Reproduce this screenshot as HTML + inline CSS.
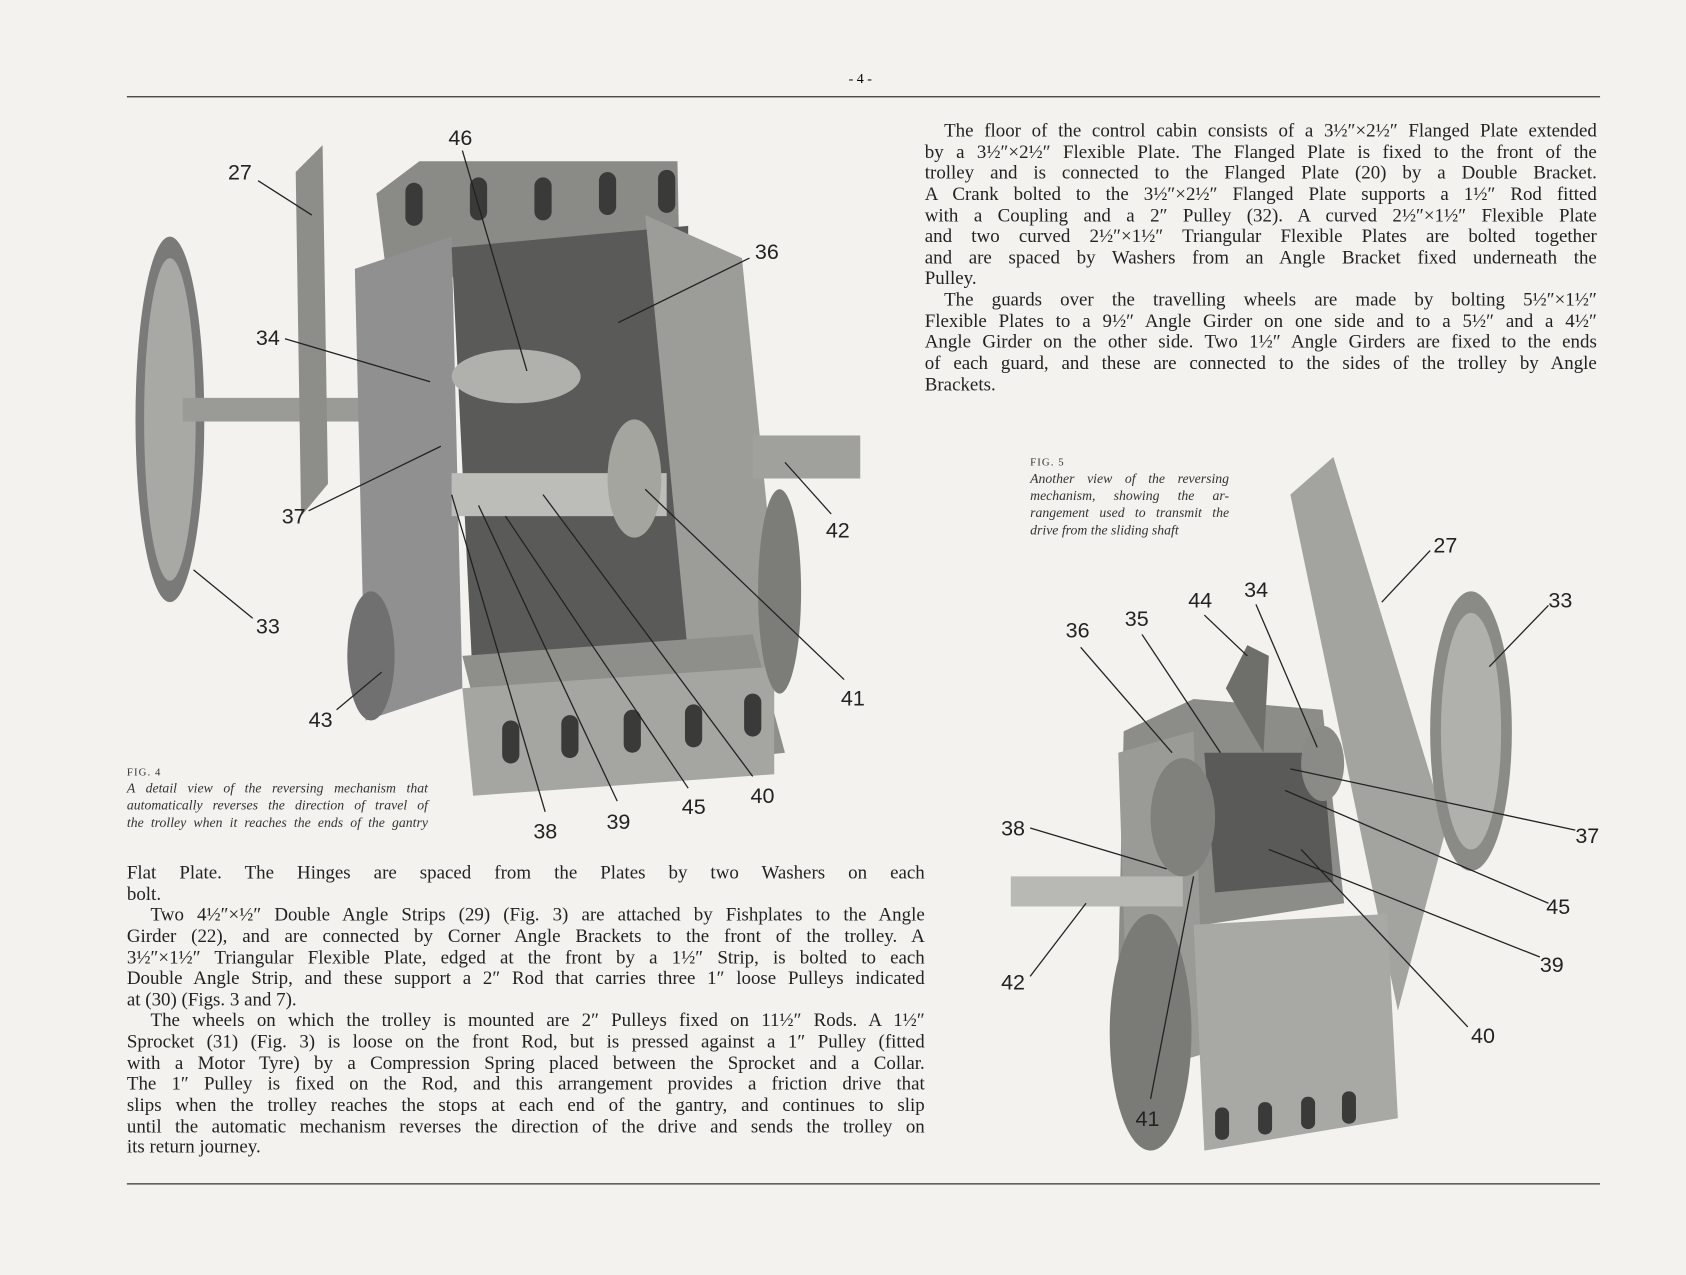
<!DOCTYPE html>
<html><head><meta charset="utf-8">
<style>
html,body{margin:0;padding:0;background:#f3f2ee;}
#wrap{width:1686px;height:1275px;overflow:hidden;position:relative;background:#f3f2ee;}
#page{width:1568px;height:1186px;position:absolute;left:0;top:0;transform:scale(1.0753);transform-origin:0 0;font-family:"Liberation Serif",serif;color:#222;}
.t{position:absolute;font-size:17.6px;line-height:19.65px;}
.t div,.cap div{text-align:justify;text-align-last:justify;white-space:nowrap;height:19.65px;}
.t div.e,.cap div.e{text-align-last:left;}
.t div.i{padding-left:18px;}
.cap{position:absolute;font-size:12.8px;line-height:16px;font-style:italic;color:#333;}
.cap div{height:16px;}
.cap .fig{font-style:normal;font-size:10px;letter-spacing:1px;}
svg{position:absolute;left:0;top:0;}
.lab{font-family:"Liberation Sans Narrow","Liberation Sans",sans-serif;font-size:20px;fill:#222;}
</style></head><body><div id="wrap"><div id="page">
<svg width="1568" height="1186" viewBox="0 0 1568 1186">
<line x1="118" y1="90" x2="1488" y2="90" stroke="#333" stroke-width="1.2"/>
<line x1="118" y1="1101" x2="1488" y2="1101" stroke="#333" stroke-width="1.2"/>
<text x="800" y="77" font-size="13" text-anchor="middle" font-family="Liberation Serif">- 4 -</text>
<g>
<ellipse cx="158" cy="390" rx="32" ry="170" fill="#7a7a78"/>
<ellipse cx="158" cy="390" rx="24" ry="150" fill="#a8a8a5"/>
<rect x="170" y="370" width="240" height="22" fill="#9a9a96"/>
<polygon points="275,160 300,135 305,450 280,480" fill="#8d8d8a"/>
<polygon points="350,180 390,150 630,150 632,250 360,260" fill="#8a8a86"/>
<polygon points="330,250 420,220 430,640 340,670" fill="#909090"/>
<polygon points="420,230 640,210 640,610 440,640" fill="#5a5a58"/>
<polygon points="600,200 690,240 730,640 640,610" fill="#9c9c98"/>
<polygon points="430,610 700,590 730,700 460,730" fill="#8e8e8a"/>
<polygon points="430,640 720,620 720,720 440,740" fill="#a5a5a1"/>
<rect x="420" y="440" width="200" height="40" fill="#bcbcb8"/>
<ellipse cx="480" cy="350" rx="60" ry="25" fill="#b0b0ac"/>
<ellipse cx="590" cy="445" rx="25" ry="55" fill="#a5a5a0"/>
<rect x="700" y="405" width="100" height="40" fill="#a0a09c"/>
<ellipse cx="725" cy="550" rx="20" ry="95" fill="#7c7c78"/>
<ellipse cx="345" cy="610" rx="22" ry="60" fill="#707070"/>
<g fill="#3a3a38"><rect x="377" y="170" width="16" height="40" rx="8"/><rect x="437" y="165" width="16" height="40" rx="8"/><rect x="497" y="165" width="16" height="40" rx="8"/><rect x="557" y="160" width="16" height="40" rx="8"/><rect x="612" y="158" width="16" height="40" rx="8"/>
<rect x="467" y="670" width="16" height="40" rx="8"/><rect x="522" y="665" width="16" height="40" rx="8"/><rect x="580" y="660" width="16" height="40" rx="8"/><rect x="637" y="655" width="16" height="40" rx="8"/><rect x="692" y="645" width="16" height="40" rx="8"/></g>
</g>
<g>
<polygon points="1200,460 1240,425 1345,770 1300,940" fill="#a3a3a0"/>
<ellipse cx="1368" cy="680" rx="38" ry="130" fill="#8a8a86"/>
<ellipse cx="1368" cy="680" rx="28" ry="110" fill="#b0b0ac"/>
<polygon points="1045,680 1110,650 1230,660 1250,840 1120,860 1040,900" fill="#8c8c88"/>
<polygon points="1040,700 1110,680 1120,980 1050,1000" fill="#9a9a96"/>
<polygon points="1110,860 1290,850 1300,1040 1120,1070" fill="#a8a8a4"/>
<polygon points="1120,700 1230,700 1240,820 1130,830" fill="#5a5a58"/>
<ellipse cx="1070" cy="960" rx="38" ry="110" fill="#7a7a76"/>
<rect x="940" y="815" width="160" height="28" fill="#b8b8b4"/>
<ellipse cx="1100" cy="760" rx="30" ry="55" fill="#80807c"/>
<ellipse cx="1230" cy="710" rx="20" ry="35" fill="#8a8a86"/>
<polygon points="1140,640 1160,600 1180,610 1175,700" fill="#6e6e6a"/>
<g fill="#3a3a38"><rect x="1130" y="1030" width="13" height="30" rx="6"/><rect x="1170" y="1025" width="13" height="30" rx="6"/><rect x="1210" y="1020" width="13" height="30" rx="6"/><rect x="1248" y="1015" width="13" height="30" rx="6"/></g>
</g>
<g stroke="#222" stroke-width="1.2" fill="none">
<line x1="430" y1="140" x2="490" y2="345"/>
<line x1="240" y1="168" x2="290" y2="200"/>
<line x1="697" y1="240" x2="575" y2="300"/>
<line x1="265" y1="315" x2="400" y2="355"/>
<line x1="287" y1="475" x2="410" y2="415"/>
<line x1="773" y1="478" x2="730" y2="430"/>
<line x1="235" y1="575" x2="180" y2="530"/>
<line x1="785" y1="632" x2="600" y2="455"/>
<line x1="313" y1="660" x2="355" y2="625"/>
<line x1="700" y1="722" x2="505" y2="460"/>
<line x1="640" y1="733" x2="470" y2="480"/>
<line x1="507" y1="755" x2="420" y2="460"/>
<line x1="574" y1="745" x2="445" y2="470"/>
<line x1="1330" y1="512" x2="1285" y2="560"/>
<line x1="1440" y1="563" x2="1385" y2="620"/>
<line x1="1120" y1="572" x2="1160" y2="610"/>
<line x1="1168" y1="562" x2="1225" y2="695"/>
<line x1="1062" y1="590" x2="1135" y2="700"/>
<line x1="1005" y1="602" x2="1090" y2="700"/>
<line x1="1465" y1="772" x2="1200" y2="715"/>
<line x1="958" y1="770" x2="1085" y2="808"/>
<line x1="1440" y1="840" x2="1195" y2="735"/>
<line x1="1432" y1="890" x2="1180" y2="790"/>
<line x1="1365" y1="955" x2="1210" y2="790"/>
<line x1="958" y1="908" x2="1010" y2="840"/>
<line x1="1070" y1="1022" x2="1110" y2="815"/>
</g>
<g class="lab">
<text x="417" y="135">46</text><text x="212" y="167">27</text><text x="702" y="241">36</text><text x="238" y="321">34</text>
<text x="262" y="487">37</text><text x="768" y="500">42</text><text x="238" y="589">33</text><text x="782" y="656">41</text>
<text x="287" y="676">43</text><text x="698" y="747">40</text><text x="634" y="757">45</text><text x="496" y="780">38</text><text x="564" y="771">39</text>
<text x="1333" y="514">27</text><text x="1440" y="565">33</text><text x="1105" y="565">44</text><text x="1157" y="555">34</text>
<text x="1046" y="582">35</text><text x="991" y="593">36</text><text x="1465" y="784">37</text><text x="931" y="777">38</text>
<text x="1438" y="850">45</text><text x="1432" y="904">39</text><text x="1368" y="970">40</text><text x="931" y="920">42</text><text x="1056" y="1047">41</text>
</g>
</svg>
<div class="t" style="left:860px;top:112px;width:625px;">
<div class="i">The floor of the control cabin consists of a 3½″×2½″ Flanged Plate extended</div>
<div>by a 3½″×2½″ Flexible Plate. The Flanged Plate is fixed to the front of the</div>
<div>trolley and is connected to the Flanged Plate (20) by a Double Bracket.</div>
<div>A Crank bolted to the 3½″×2½″ Flanged Plate supports a 1½″ Rod fitted</div>
<div>with a Coupling and a 2″ Pulley (32). A curved 2½″×1½″ Flexible Plate</div>
<div>and two curved 2½″×1½″ Triangular Flexible Plates are bolted together</div>
<div>and are spaced by Washers from an Angle Bracket fixed underneath the</div>
<div class="e">Pulley.</div>
<div class="i">The guards over the travelling wheels are made by bolting 5½″×1½″</div>
<div>Flexible Plates to a 9½″ Angle Girder on one side and to a 5½″ and a 4½″</div>
<div>Angle Girder on the other side. Two 1½″ Angle Girders are fixed to the ends</div>
<div>of each guard, and these are connected to the sides of the trolley by Angle</div>
<div class="e">Brackets.</div>
</div>
<div class="cap" style="left:958px;top:421px;width:185px;"><div class="e"><span class="fig">FIG. 5</span></div>
<div>Another view of the reversing</div><div>mechanism, showing the ar-</div><div>rangement used to transmit the</div><div class="e">drive from the sliding shaft</div></div>
<div class="cap" style="left:118px;top:709px;width:280px;"><div class="e"><span class="fig">FIG. 4</span></div>
<div>A detail view of the reversing mechanism that</div><div>automatically reverses the direction of travel of</div><div>the trolley when it reaches the ends of the gantry</div></div>
<div class="t" style="left:118px;top:802px;width:742px;">
<div>Flat Plate. The Hinges are spaced from the Plates by two Washers on each</div>
<div class="e">bolt.</div>
<div class="i" style="padding-left:22px">Two 4½″×½″ Double Angle Strips (29) (Fig. 3) are attached by Fishplates to the Angle</div>
<div>Girder (22), and are connected by Corner Angle Brackets to the front of the trolley. A</div>
<div>3½″×1½″ Triangular Flexible Plate, edged at the front by a 1½″ Strip, is bolted to each</div>
<div>Double Angle Strip, and these support a 2″ Rod that carries three 1″ loose Pulleys indicated</div>
<div class="e">at (30) (Figs. 3 and 7).</div>
<div class="i" style="padding-left:22px">The wheels on which the trolley is mounted are 2″ Pulleys fixed on 11½″ Rods. A 1½″</div>
<div>Sprocket (31) (Fig. 3) is loose on the front Rod, but is pressed against a 1″ Pulley (fitted</div>
<div>with a Motor Tyre) by a Compression Spring placed between the Sprocket and a Collar.</div>
<div>The 1″ Pulley is fixed on the Rod, and this arrangement provides a friction drive that</div>
<div>slips when the trolley reaches the stops at each end of the gantry, and continues to slip</div>
<div>until the automatic mechanism reverses the direction of the drive and sends the trolley on</div>
<div class="e">its return journey.</div>
</div>
</div></div></body></html>
